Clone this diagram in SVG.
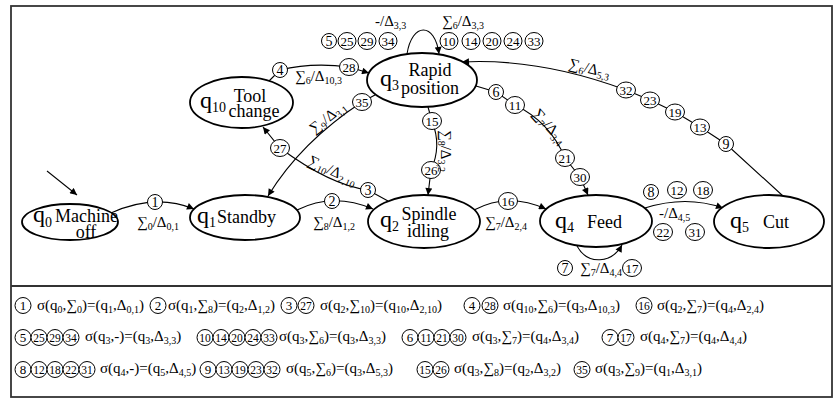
<svg xmlns="http://www.w3.org/2000/svg" width="840" height="402" viewBox="0 0 840 402">
<defs>
<style>
text{font-family:"Liberation Serif","Times New Roman",serif;fill:#000}
.nd{fill:#fff;stroke:#000;stroke-width:1.8}
.ed{fill:none;stroke:#000;stroke-width:1.1}
.ci{fill:#fff;stroke:#000;stroke-width:1}
.fr{fill:none;stroke:#333;stroke-width:1.8}
.nl{font-size:18px}
.qq{font-size:24px}
.qs{font-size:14px}
.el{font-size:15px}
.es{font-size:10px}
.cn{font-size:14px;text-anchor:middle}
.cn2{font-size:13px;text-anchor:middle}
.lg{font-size:15px}
.ls{font-size:10px}
.lc{font-size:13px;text-anchor:middle}
.lc2{font-size:11.5px;text-anchor:middle}
</style>
<marker id="ah" viewBox="0 0 10 10" refX="10" refY="5" markerWidth="9" markerHeight="7" orient="auto" markerUnits="userSpaceOnUse"><path d="M0,0 L10,5 L0,10 z" fill="#000"/></marker>
</defs>
<rect width="840" height="402" fill="#fff"/>
<g id="frame">
<rect class="fr" x="11" y="6" width="821" height="391"/>
<line class="fr" x1="11" y1="286" x2="832" y2="286"/>
</g>
<g id="connectors">
<g id="e-init"><path class="ed" d="M47,171 L77,195" marker-end="url(#ah)"/></g>
<g id="e01">
<path class="ed" d="M111,213 Q155,193 194,209" marker-end="url(#ah)"/>
<circle class="ci" cx="155" cy="202" r="7.5"/><text class="cn" x="155" y="206.5">1</text>
<text class="el" x="137" y="227">∑<tspan class="es" dy="3">0</tspan><tspan dy="-3">/Δ</tspan><tspan class="es" dy="3">0,1</tspan></text>
</g>
<g id="e12">
<path class="ed" d="M297,210 Q333,192 373,209" marker-end="url(#ah)"/>
<circle class="ci" cx="332" cy="201" r="7.5"/><text class="cn" x="332" y="205.5">2</text>
<text class="el" x="313" y="227">∑<tspan class="es" dy="3">8</tspan><tspan dy="-3">/Δ</tspan><tspan class="es" dy="3">1,2</tspan></text>
</g>
<g id="e24">
<path class="ed" d="M474,210 Q508,192 546,209" marker-end="url(#ah)"/>
<ellipse class="ci" cx="508" cy="201" rx="9.5" ry="8.5"/><text class="cn2" x="508" y="205.5">16</text>
<text class="el" x="485" y="227">∑<tspan class="es" dy="3">7</tspan><tspan dy="-3">/Δ</tspan><tspan class="es" dy="3">2,4</tspan></text>
</g>
<g id="e45">
<path class="ed" d="M645,208 Q686,195 723,208" marker-end="url(#ah)"/>
<circle class="ci" cx="651" cy="192" r="7.5"/><text class="cn" x="651" y="196.5">8</text>
<ellipse class="ci" cx="677" cy="190" rx="9.5" ry="8.5"/><text class="cn2" x="677" y="194.5">12</text>
<ellipse class="ci" cx="703" cy="190" rx="9.5" ry="8.5"/><text class="cn2" x="703" y="194.5">18</text>
<text class="el" x="659" y="218">-/Δ<tspan class="es" dy="3">4,5</tspan></text>
<ellipse class="ci" cx="663" cy="232" rx="9.5" ry="8.5"/><text class="cn2" x="663" y="236.5">22</text>
<ellipse class="ci" cx="695" cy="232" rx="9.5" ry="8.5"/><text class="cn2" x="695" y="236.5">31</text>
</g>
<g id="e44">
<path class="ed" d="M577,246 C588,266 612,263 622,245" marker-end="url(#ah)"/>
<circle class="ci" cx="565" cy="268" r="7.5"/><text class="cn" x="565" y="272.5">7</text>
<text class="el" x="580" y="273">∑<tspan class="es" dy="3">7</tspan><tspan dy="-3">/Δ</tspan><tspan class="es" dy="3">4,4</tspan></text>
<ellipse class="ci" cx="632" cy="268" rx="9.5" ry="8.5"/><text class="cn2" x="632" y="272.5">17</text>
</g>
<g id="e33">
<path class="ed" d="M407,54 C412,22 435,22 439,54" marker-end="url(#ah)"/>
<text class="el" x="375" y="26">-/Δ<tspan class="es" dy="3">3,3</tspan></text>
<text class="el" x="442" y="26">∑<tspan class="es" dy="3">6</tspan><tspan dy="-3">/Δ</tspan><tspan class="es" dy="3">3,3</tspan></text>
<circle class="ci" cx="329" cy="41" r="7.5"/><text class="cn" x="329" y="45.5">5</text>
<ellipse class="ci" cx="347" cy="41" rx="9" ry="8.5"/><text class="cn2" x="347" y="45.5">25</text>
<ellipse class="ci" cx="367" cy="41" rx="9" ry="8.5"/><text class="cn2" x="367" y="45.5">29</text>
<ellipse class="ci" cx="388" cy="41" rx="9" ry="8.5"/><text class="cn2" x="388" y="45.5">34</text>
<ellipse class="ci" cx="449" cy="41" rx="9" ry="8.5"/><text class="cn2" x="449" y="45.5">10</text>
<ellipse class="ci" cx="471" cy="41" rx="9" ry="8.5"/><text class="cn2" x="471" y="45.5">14</text>
<ellipse class="ci" cx="492" cy="41" rx="9" ry="8.5"/><text class="cn2" x="492" y="45.5">20</text>
<ellipse class="ci" cx="513" cy="41" rx="9" ry="8.5"/><text class="cn2" x="513" y="45.5">24</text>
<ellipse class="ci" cx="534" cy="41" rx="9" ry="8.5"/><text class="cn2" x="534" y="45.5">33</text>
</g>
<g id="e103">
<path class="ed" d="M268,82 L280,70 Q312,62 349,67 L369,73" marker-end="url(#ah)"/>
<circle class="ci" cx="280" cy="70" r="7.5"/><text class="cn" x="280" y="74.5">4</text>
<ellipse class="ci" cx="349" cy="67" rx="9.5" ry="8.5"/><text class="cn2" x="349" y="71.5">28</text>
<text class="el" x="295" y="81">∑<tspan class="es" dy="3">6</tspan><tspan dy="-3">/Δ</tspan><tspan class="es" dy="3">10,3</tspan></text>
</g>
<g id="e31">
<path class="ed" d="M375,95 L362,102 Q301,142 268,196" marker-end="url(#ah)"/>
<ellipse class="ci" cx="362" cy="102" rx="9.5" ry="8.5"/><text class="cn2" x="362" y="106.5">35</text>
<text class="el" transform="translate(314,134) rotate(-38)">∑<tspan class="es" dy="3">9</tspan><tspan dy="-3">/Δ</tspan><tspan class="es" dy="3">3,1</tspan></text>
</g>
<g id="e210">
<path class="ed" d="M388,201 L368,190 Q330,185 280,148 L263,127" marker-end="url(#ah)"/>
<circle class="ci" cx="368" cy="190" r="7.5"/><text class="cn" x="368" y="194.5">3</text>
<ellipse class="ci" cx="280" cy="148" rx="9.5" ry="8.5"/><text class="cn2" x="280" y="152.5">27</text>
<text class="el" transform="translate(307,164) rotate(25)">∑<tspan class="es" dy="3">10</tspan><tspan dy="-3">/Δ</tspan><tspan class="es" dy="3">2,10</tspan></text>
</g>
<g id="e32">
<path class="ed" d="M428,107 L432,121 Q442,146 431,170 L428,195" marker-end="url(#ah)"/>
<ellipse class="ci" cx="432" cy="121" rx="9.5" ry="8.5"/><text class="cn2" x="432" y="125.5">15</text>
<ellipse class="ci" cx="431" cy="170" rx="9.5" ry="8.5"/><text class="cn2" x="431" y="174.5">26</text>
<text class="el" transform="translate(441,130) rotate(90)">∑<tspan class="es" dy="3">8</tspan><tspan dy="-3">/Δ</tspan><tspan class="es" dy="3">3,2</tspan></text>
</g>
<g id="e34">
<path class="ed" d="M476,86 L496,92 L515,105 Q550,122 565,158 L580,177 L588,195" marker-end="url(#ah)"/>
<circle class="ci" cx="496" cy="92" r="7.5"/><text class="cn" x="496" y="96.5">6</text>
<ellipse class="ci" cx="515" cy="105" rx="9.5" ry="8.5"/><text class="cn2" x="515" y="109.5">11</text>
<ellipse class="ci" cx="565" cy="158" rx="9.5" ry="8.5"/><text class="cn2" x="565" y="162.5">21</text>
<ellipse class="ci" cx="580" cy="177" rx="9.5" ry="8.5"/><text class="cn2" x="580" y="181.5">30</text>
<text class="el" transform="translate(532,114) rotate(48)">∑<tspan class="es" dy="3">7</tspan><tspan dy="-3">/Δ</tspan><tspan class="es" dy="3">3,4</tspan></text>
</g>
<g id="e53">
<path class="ed" d="M783,196 L726,144 L700,127 L675,112 L650,100 L626,90 Q540,58 462,62" marker-end="url(#ah)"/>
<circle class="ci" cx="726" cy="144" r="7.5"/><text class="cn" x="726" y="148.5">9</text>
<ellipse class="ci" cx="700" cy="127" rx="9.5" ry="8"/><text class="cn2" x="700" y="131.5">13</text>
<ellipse class="ci" cx="675" cy="112" rx="9.5" ry="8"/><text class="cn2" x="675" y="116.5">19</text>
<ellipse class="ci" cx="650" cy="100" rx="9.5" ry="8"/><text class="cn2" x="650" y="104.5">23</text>
<ellipse class="ci" cx="626" cy="90" rx="9.5" ry="8"/><text class="cn2" x="626" y="94.5">32</text>
<text class="el" transform="translate(568,68) rotate(14)">∑<tspan class="es" dy="3">6</tspan><tspan dy="-3">/Δ</tspan><tspan class="es" dy="3">5,3</tspan></text>
</g>
</g>
<g id="q0">
<ellipse class="nd" cx="70" cy="222" rx="48" ry="18"/>
<text class="qq" x="33" y="222">q<tspan class="qs" dy="5">0</tspan></text>
<text class="nl" x="55" y="222">Machine</text>
<text class="nl" x="86" y="238" text-anchor="middle">off</text>
</g>
<g id="q1">
<ellipse class="nd" cx="245" cy="217.5" rx="55" ry="22.5"/>
<text class="qq" x="197" y="223">q<tspan class="qs" dy="4">1</tspan></text>
<text class="nl" x="217" y="223">Standby</text>
</g>
<g id="q2">
<ellipse class="nd" cx="424" cy="221.5" rx="56" ry="26.5"/>
<text class="qq" x="380" y="227">q<tspan class="qs" dy="4">2</tspan></text>
<text class="nl" x="429" y="220" text-anchor="middle">Spindle</text>
<text class="nl" x="428" y="237" text-anchor="middle">idling</text>
</g>
<g id="q3">
<ellipse class="nd" cx="422" cy="80" rx="55" ry="27"/>
<text class="qq" x="380" y="86">q<tspan class="qs" dy="4">3</tspan></text>
<text class="nl" x="430" y="76" text-anchor="middle">Rapid</text>
<text class="nl" x="430" y="94" text-anchor="middle">position</text>
</g>
<g id="q4">
<ellipse class="nd" cx="596" cy="221" rx="56" ry="26"/>
<text class="qq" x="555" y="228">q<tspan class="qs" dy="4">4</tspan></text>
<text class="nl" x="587" y="228">Feed</text>
</g>
<g id="q5">
<ellipse class="nd" cx="769" cy="221.5" rx="55" ry="26.5"/>
<text class="qq" x="730" y="228">q<tspan class="qs" dy="4">5</tspan></text>
<text class="nl" x="763" y="228">Cut</text>
</g>
<g id="q10">
<ellipse class="nd" cx="241.5" cy="102.5" rx="51.5" ry="25.5"/>
<text class="qq" x="200" y="108">q<tspan class="qs" dy="4">10</tspan></text>
<text class="nl" x="250" y="102" text-anchor="middle">Tool</text>
<text class="nl" x="254" y="117" text-anchor="middle">change</text>
</g>
<g id="legend">
<g id="row1">
<circle class="ci" cx="23" cy="305.5" r="8"/><text class="lc" x="23" y="310">1</text>
<text class="lg" x="37" y="310">σ(q<tspan class="ls" dy="3">0</tspan><tspan dy="-3">,∑</tspan><tspan class="ls" dy="3">0</tspan><tspan dy="-3">)=(q</tspan><tspan class="ls" dy="3">1</tspan><tspan dy="-3">,Δ</tspan><tspan class="ls" dy="3">0,1</tspan><tspan dy="-3">)</tspan></text>
<circle class="ci" cx="158" cy="305.5" r="8"/><text class="lc" x="158" y="310">2</text>
<text class="lg" x="168" y="310">σ(q<tspan class="ls" dy="3">1</tspan><tspan dy="-3">,∑</tspan><tspan class="ls" dy="3">8</tspan><tspan dy="-3">)=(q</tspan><tspan class="ls" dy="3">2</tspan><tspan dy="-3">,Δ</tspan><tspan class="ls" dy="3">1,2</tspan><tspan dy="-3">)</tspan></text>
<circle class="ci" cx="289" cy="305.5" r="8"/><text class="lc" x="289" y="310">3</text>
<circle class="ci" cx="306" cy="305.5" r="8"/><text class="lc2" x="306" y="309.5">27</text>
<text class="lg" x="320" y="310">σ(q<tspan class="ls" dy="3">2</tspan><tspan dy="-3">,∑</tspan><tspan class="ls" dy="3">10</tspan><tspan dy="-3">)=(q</tspan><tspan class="ls" dy="3">10</tspan><tspan dy="-3">,Δ</tspan><tspan class="ls" dy="3">2,10</tspan><tspan dy="-3">)</tspan></text>
<circle class="ci" cx="472" cy="305.5" r="8"/><text class="lc" x="472" y="310">4</text>
<circle class="ci" cx="490" cy="305.5" r="8"/><text class="lc2" x="490" y="309.5">28</text>
<text class="lg" x="503" y="310">σ(q<tspan class="ls" dy="3">10</tspan><tspan dy="-3">,∑</tspan><tspan class="ls" dy="3">6</tspan><tspan dy="-3">)=(q</tspan><tspan class="ls" dy="3">3</tspan><tspan dy="-3">,Δ</tspan><tspan class="ls" dy="3">10,3</tspan><tspan dy="-3">)</tspan></text>
<circle class="ci" cx="644" cy="305.5" r="8"/><text class="lc2" x="644" y="309.5">16</text>
<text class="lg" x="657" y="310">σ(q<tspan class="ls" dy="3">2</tspan><tspan dy="-3">,∑</tspan><tspan class="ls" dy="3">7</tspan><tspan dy="-3">)=(q</tspan><tspan class="ls" dy="3">4</tspan><tspan dy="-3">,Δ</tspan><tspan class="ls" dy="3">2,4</tspan><tspan dy="-3">)</tspan></text>
</g>
<g id="row2">
<circle class="ci" cx="23" cy="337.5" r="8"/><text class="lc" x="23" y="342">5</text>
<circle class="ci" cx="39" cy="337.5" r="8"/><text class="lc2" x="39" y="341.5">25</text>
<circle class="ci" cx="55" cy="337.5" r="8"/><text class="lc2" x="55" y="341.5">29</text>
<circle class="ci" cx="71" cy="337.5" r="8"/><text class="lc2" x="71" y="341.5">34</text>
<text class="lg" x="85" y="341">σ(q<tspan class="ls" dy="3">3</tspan><tspan dy="-3">,-)=(q</tspan><tspan class="ls" dy="3">3</tspan><tspan dy="-3">,Δ</tspan><tspan class="ls" dy="3">3,3</tspan><tspan dy="-3">)</tspan></text>
<circle class="ci" cx="205" cy="337.5" r="8"/><text class="lc2" x="205" y="341.5">10</text>
<circle class="ci" cx="221" cy="337.5" r="8"/><text class="lc2" x="221" y="341.5">14</text>
<circle class="ci" cx="237" cy="337.5" r="8"/><text class="lc2" x="237" y="341.5">20</text>
<circle class="ci" cx="253" cy="337.5" r="8"/><text class="lc2" x="253" y="341.5">24</text>
<circle class="ci" cx="269" cy="337.5" r="8"/><text class="lc2" x="269" y="341.5">33</text>
<text class="lg" x="279" y="341">σ(q<tspan class="ls" dy="3">3</tspan><tspan dy="-3">,∑</tspan><tspan class="ls" dy="3">6</tspan><tspan dy="-3">)=(q</tspan><tspan class="ls" dy="3">3</tspan><tspan dy="-3">,Δ</tspan><tspan class="ls" dy="3">3,3</tspan><tspan dy="-3">)</tspan></text>
<circle class="ci" cx="410" cy="337.5" r="8"/><text class="lc" x="410" y="342">6</text>
<circle class="ci" cx="426" cy="337.5" r="8"/><text class="lc2" x="426" y="341.5">11</text>
<circle class="ci" cx="442" cy="337.5" r="8"/><text class="lc2" x="442" y="341.5">21</text>
<circle class="ci" cx="458" cy="337.5" r="8"/><text class="lc2" x="458" y="341.5">30</text>
<text class="lg" x="472" y="341">σ(q<tspan class="ls" dy="3">3</tspan><tspan dy="-3">,∑</tspan><tspan class="ls" dy="3">7</tspan><tspan dy="-3">)=(q</tspan><tspan class="ls" dy="3">4</tspan><tspan dy="-3">,Δ</tspan><tspan class="ls" dy="3">3,4</tspan><tspan dy="-3">)</tspan></text>
<circle class="ci" cx="610" cy="337.5" r="8"/><text class="lc" x="610" y="342">7</text>
<circle class="ci" cx="626" cy="337.5" r="8"/><text class="lc2" x="626" y="341.5">17</text>
<text class="lg" x="640" y="341">σ(q<tspan class="ls" dy="3">4</tspan><tspan dy="-3">,∑</tspan><tspan class="ls" dy="3">7</tspan><tspan dy="-3">)=(q</tspan><tspan class="ls" dy="3">4</tspan><tspan dy="-3">,Δ</tspan><tspan class="ls" dy="3">4,4</tspan><tspan dy="-3">)</tspan></text>
</g>
<g id="row3">
<circle class="ci" cx="23" cy="369.5" r="8"/><text class="lc" x="23" y="374">8</text>
<circle class="ci" cx="39" cy="369.5" r="8"/><text class="lc2" x="39" y="373.5">12</text>
<circle class="ci" cx="55" cy="369.5" r="8"/><text class="lc2" x="55" y="373.5">18</text>
<circle class="ci" cx="71" cy="369.5" r="8"/><text class="lc2" x="71" y="373.5">22</text>
<circle class="ci" cx="87" cy="369.5" r="8"/><text class="lc2" x="87" y="373.5">31</text>
<text class="lg" x="100" y="373">σ(q<tspan class="ls" dy="3">4</tspan><tspan dy="-3">,-)=(q</tspan><tspan class="ls" dy="3">5</tspan><tspan dy="-3">,Δ</tspan><tspan class="ls" dy="3">4,5</tspan><tspan dy="-3">)</tspan></text>
<circle class="ci" cx="208" cy="369.5" r="8"/><text class="lc" x="208" y="374">9</text>
<circle class="ci" cx="224" cy="369.5" r="8"/><text class="lc2" x="224" y="373.5">13</text>
<circle class="ci" cx="240" cy="369.5" r="8"/><text class="lc2" x="240" y="373.5">19</text>
<circle class="ci" cx="256" cy="369.5" r="8"/><text class="lc2" x="256" y="373.5">23</text>
<circle class="ci" cx="272" cy="369.5" r="8"/><text class="lc2" x="272" y="373.5">32</text>
<text class="lg" x="286" y="373">σ(q<tspan class="ls" dy="3">5</tspan><tspan dy="-3">,∑</tspan><tspan class="ls" dy="3">6</tspan><tspan dy="-3">)=(q</tspan><tspan class="ls" dy="3">3</tspan><tspan dy="-3">,Δ</tspan><tspan class="ls" dy="3">5,3</tspan><tspan dy="-3">)</tspan></text>
<circle class="ci" cx="425" cy="369.5" r="8"/><text class="lc2" x="425" y="373.5">15</text>
<circle class="ci" cx="441" cy="369.5" r="8"/><text class="lc2" x="441" y="373.5">26</text>
<text class="lg" x="454" y="373">σ(q<tspan class="ls" dy="3">3</tspan><tspan dy="-3">,∑</tspan><tspan class="ls" dy="3">8</tspan><tspan dy="-3">)=(q</tspan><tspan class="ls" dy="3">2</tspan><tspan dy="-3">,Δ</tspan><tspan class="ls" dy="3">3,2</tspan><tspan dy="-3">)</tspan></text>
<circle class="ci" cx="582" cy="369.5" r="8"/><text class="lc2" x="582" y="373.5">35</text>
<text class="lg" x="595" y="373">σ(q<tspan class="ls" dy="3">3</tspan><tspan dy="-3">,∑</tspan><tspan class="ls" dy="3">9</tspan><tspan dy="-3">)=(q</tspan><tspan class="ls" dy="3">1</tspan><tspan dy="-3">,Δ</tspan><tspan class="ls" dy="3">3,1</tspan><tspan dy="-3">)</tspan></text>
</g>
</g>
</svg>
